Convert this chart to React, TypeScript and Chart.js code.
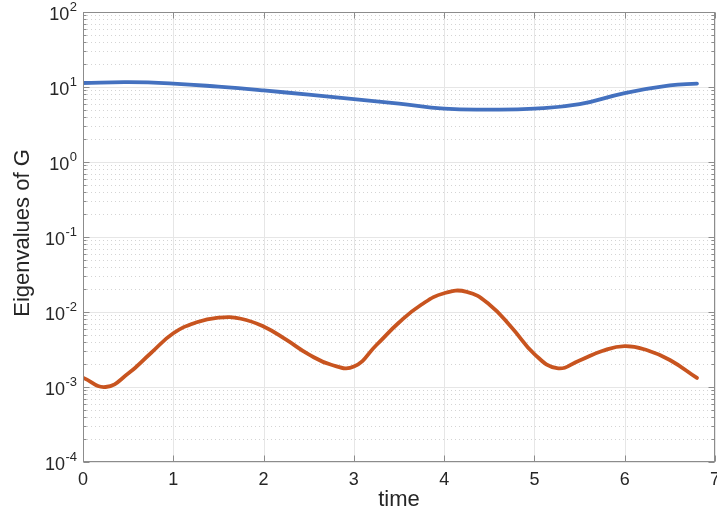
import React, { useEffect, useRef } from 'react';
import { Chart, registerables } from 'chart.js';

Chart.register(...registerables);

const blueTime = [0, 0.5, 1.0, 1.5, 2.0, 2.5, 3.0, 3.5, 4.0, 4.5, 5.0, 5.5, 6.0, 6.5, 6.8];
const blueValues = [11.3, 11.6, 11.1, 10.1, 9.0, 7.9, 6.9, 6.0, 5.15, 5.0, 5.15, 5.9, 8.3, 10.5, 11.1];

const orangeTime = [0, 0.25, 0.5, 0.75, 1.0, 1.25, 1.5, 1.75, 2.0, 2.25, 2.5, 2.75, 3.0, 3.25, 3.5, 3.75, 4.0, 4.25, 4.5, 4.75, 5.0, 5.25, 5.5, 5.75, 6.0, 6.25, 6.5, 6.8];
const orangeValues = [1.33e-3, 1.0e-3, 1.51e-3, 2.82e-3, 5.2e-3, 7.24e-3, 8.41e-3, 8.13e-3, 6.4e-3, 4.27e-3, 2.72e-3, 1.98e-3, 1.87e-3, 3.63e-3, 7.24e-3, 1.26e-2, 1.78e-2, 1.86e-2, 1.26e-2, 6.17e-3, 2.75e-3, 1.78e-3, 2.26e-3, 3.02e-3, 3.51e-3, 3.09e-3, 2.29e-3, 1.32e-3];

const xTickValues = [0, 1, 2, 3, 4, 5, 6, 7];
const yExponents = [-4, -3, -2, -1, 0, 1, 2];
const xTitle = 'time';
const yTitle = 'Eigenvalues of G';

const FONT = '"Liberation Sans", Arial, Helvetica, sans-serif';

const axesPlugin = {
  id: 'matlabAxes',
  beforeDatasetsDraw(chart: any) {
    const { ctx, chartArea: a, scales } = chart;
    const x = scales.x;
    const y = scales.y;
    ctx.save();
    ctx.lineWidth = 1;
    ctx.strokeStyle = '#d4d4d4';
    ctx.setLineDash([1, 3]);
    for (let i = 0; i < yExponents.length - 1; i++) {
      for (let m = 2; m <= 9; m++) {
        const py = Math.round(y.getPixelForValue(m * Math.pow(10, yExponents[i]))) + 0.5;
        ctx.beginPath();
        ctx.moveTo(a.left, py);
        ctx.lineTo(a.right, py);
        ctx.stroke();
      }
    }
    ctx.setLineDash([]);
    ctx.strokeStyle = '#e6e6e6';
    for (const e of yExponents) {
      const py = Math.round(y.getPixelForValue(Math.pow(10, e))) + 0.5;
      ctx.beginPath();
      ctx.moveTo(a.left, py);
      ctx.lineTo(a.right, py);
      ctx.stroke();
    }
    for (const t of xTickValues) {
      const px = Math.round(x.getPixelForValue(t)) + 0.5;
      ctx.beginPath();
      ctx.moveTo(px, a.top);
      ctx.lineTo(px, a.bottom);
      ctx.stroke();
    }
    ctx.restore();
  },
  afterDatasetsDraw(chart: any) {
    const { ctx, chartArea: a, scales } = chart;
    const x = scales.x;
    const y = scales.y;
    ctx.save();
    ctx.strokeStyle = '#8c8c8c';
    ctx.lineWidth = 1;
    const L = Math.round(a.left) + 0.5;
    const R = Math.round(a.right) - 0.5;
    const T = Math.round(a.top) + 0.5;
    const B = Math.round(a.bottom) - 0.5;
    ctx.strokeRect(L, T, R - L, B - T);
    ctx.beginPath();
    for (let i = 0; i < yExponents.length; i++) {
      const py = Math.round(y.getPixelForValue(Math.pow(10, yExponents[i]))) + 0.5;
      ctx.moveTo(L, py); ctx.lineTo(L + 6, py);
      ctx.moveTo(R, py); ctx.lineTo(R - 6, py);
      if (i < yExponents.length - 1) {
        for (let m = 2; m <= 9; m++) {
          const pm = Math.round(y.getPixelForValue(m * Math.pow(10, yExponents[i]))) + 0.5;
          ctx.moveTo(L, pm); ctx.lineTo(L + 3, pm);
          ctx.moveTo(R, pm); ctx.lineTo(R - 3, pm);
        }
      }
    }
    for (const t of xTickValues) {
      const px = Math.round(x.getPixelForValue(t)) + 0.5;
      ctx.moveTo(px, B); ctx.lineTo(px, B - 6);
      ctx.moveTo(px, T); ctx.lineTo(px, T + 6);
    }
    ctx.stroke();

    ctx.fillStyle = '#262626';
    for (const e of yExponents) {
      const py = y.getPixelForValue(Math.pow(10, e));
      const expText = e < 0 ? '-' + Math.abs(e) : String(e);
      ctx.font = `13px ${FONT}`;
      const ew = ctx.measureText(expText).width;
      const right = 77;
      ctx.textAlign = 'left';
      ctx.textBaseline = 'alphabetic';
      ctx.fillText(expText, right - ew, py - 1.5);
      ctx.font = `18px ${FONT}`;
      ctx.textAlign = 'right';
      ctx.fillText('10', right - ew - 0.5, py + 7.5);
    }
    ctx.font = `18px ${FONT}`;
    ctx.textAlign = 'center';
    ctx.textBaseline = 'alphabetic';
    for (const t of xTickValues) {
      const px = x.getPixelForValue(t);
      ctx.fillText(String(t), px, 484.5);
    }
    ctx.font = `22px ${FONT}`;
    ctx.textAlign = 'center';
    ctx.fillText(xTitle, (a.left + a.right) / 2, 506);
    ctx.save();
    ctx.translate(29, 233);
    ctx.rotate(-Math.PI / 2);
    ctx.fillText(yTitle, 0, 0);
    ctx.restore();
    ctx.restore();
  },
};

export default function App() {
  const canvasRef = useRef<HTMLCanvasElement | null>(null);

  useEffect(() => {
    document.body.style.margin = '0';
    const canvas = canvasRef.current;
    if (!canvas) return;
    const blueData = blueTime.map((t, i) => ({ x: t, y: blueValues[i] }));
    const orangeData = orangeTime.map((t, i) => ({ x: t, y: orangeValues[i] }));
    const chart = new Chart(canvas, {
      type: 'line',
      data: {
        datasets: [
          {
            label: 'lambda1',
            data: blueData,
            borderColor: '#4471BF',
            borderWidth: 3.8,
            pointRadius: 0,
            tension: 0.45,
            borderCapStyle: 'round',
            borderJoinStyle: 'round',
            fill: false,
          },
          {
            label: 'lambda2',
            data: orangeData,
            borderColor: '#C8541F',
            borderWidth: 3.8,
            pointRadius: 0,
            tension: 0.45,
            borderCapStyle: 'round',
            borderJoinStyle: 'round',
            fill: false,
          },
        ],
      },
      options: {
        responsive: false,
        animation: false,
        events: [],
        layout: { padding: { left: 0, right: 2, top: 12, bottom: 0 } },
        plugins: {
          legend: { display: false },
          tooltip: { enabled: false },
          title: { display: false },
        },
        scales: {
          x: {
            type: 'linear',
            min: 0,
            max: 7,
            grid: { display: false },
            border: { display: false },
            ticks: { display: false, stepSize: 1 },
            afterFit(scale: any) { scale.height = 52; },
          },
          y: {
            type: 'logarithmic',
            min: 1e-4,
            max: 1e2,
            grid: { display: false },
            border: { display: false },
            ticks: { display: false },
            afterFit(scale: any) { scale.width = 83; },
          },
        },
      },
      plugins: [axesPlugin],
    });
    return () => chart.destroy();
  }, []);

  return (
    <div style={{ position: 'absolute', left: 0, top: 0, width: 717, height: 514, background: '#fff' }}>
      <canvas ref={canvasRef} width={717} height={514} />
    </div>
  );
}
